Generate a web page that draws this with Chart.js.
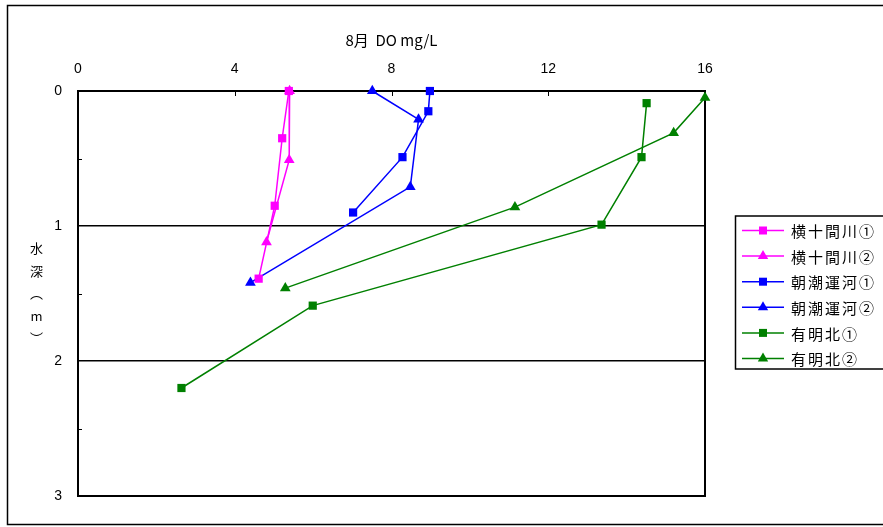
<!DOCTYPE html>
<html>
<head>
<meta charset="utf-8">
<script src="https://cdn.jsdelivr.net/npm/chart.js@4.4.1/dist/chart.umd.min.js"></script>
<style>
  body { margin: 0; background: #fff; }
  #wrap { position: relative; width: 883px; height: 527px; }
  #ytitle {
    position: absolute; left: 29px; top: 242px;
    writing-mode: vertical-rl; text-orientation: upright;
    font: 13px 'Noto Sans CJK JP', sans-serif; line-height: 14px;
    letter-spacing: 9.5px; color: #000;
  }
</style>
</head>
<body>
<div id="wrap">
  <canvas id="grafico" width="883" height="527"></canvas>
  <div id="ytitle">水深（m）</div>
</div>
<script>
// 8月 DO (mg/L) vs 水深 (m)
const nombres = ['横十間川①', '横十間川②', '朝潮運河①', '朝潮運河②', '有明北①', '有明北②'];

const doYoko1 = [5.38, 5.21, 5.02, 4.61];
const profYoko1 = [0, 0.35, 0.85, 1.39];
const doYoko2 = [5.40, 5.39, 4.81];
const profYoko2 = [0, 0.51, 1.12];
const doAsa1 = [8.98, 8.94, 8.28, 7.02];
const profAsa1 = [0, 0.15, 0.49, 0.90];
const doAsa2 = [7.51, 8.69, 8.48, 4.40];
const profAsa2 = [0, 0.21, 0.71, 1.42];
const doAri1 = [14.51, 14.38, 13.36, 5.99, 2.64];
const profAri1 = [0.09, 0.49, 0.99, 1.59, 2.20];
const doAri2 = [16.0, 15.2, 11.15, 5.29];
const profAri2 = [0.05, 0.31, 0.86, 1.46];

const xTicks = [0, 4, 8, 12, 16];
const yTicks = [0, 1, 2, 3];

const colores = ['#FF00FF', '#FF00FF', '#0000FF', '#0000FF', '#008000', '#008000'];
const marcas = ['rect', 'triangle', 'rect', 'triangle', 'rect', 'triangle'];

const FUENTE = "'Liberation Sans', 'Noto Sans CJK JP', sans-serif";

function puntos(xs, ys) {
  return xs.map((v, i) => ({ x: v, y: ys[i] }));
}

const series = [
  puntos(doYoko1, profYoko1),
  puntos(doYoko2, profYoko2),
  puntos(doAsa1, profAsa1),
  puntos(doAsa2, profAsa2),
  puntos(doAri1, profAri1),
  puntos(doAri2, profAri2)
];

function dibujarMarca(ctx, estilo, x, y, color) {
  ctx.fillStyle = color;
  ctx.beginPath();
  if (estilo === 'rect') {
    ctx.rect(x - 4, y - 4, 8, 8);
  } else {
    ctx.moveTo(x, y - 6);
    ctx.lineTo(x + 5.2, y + 3);
    ctx.lineTo(x - 5.2, y + 3);
    ctx.closePath();
  }
  ctx.fill();
}

const marco = {
  id: 'marco',
  beforeDraw(chart) {
    const ctx = chart.ctx;
    ctx.save();
    ctx.fillStyle = '#fff';
    ctx.fillRect(0, 0, chart.width, chart.height);
    // borde exterior
    ctx.strokeStyle = '#000';
    ctx.lineWidth = 1.5;
    ctx.strokeRect(7.5, 5.5, 900, 519);
    ctx.restore();
  },
  beforeDatasetsDraw(chart) {
    const ctx = chart.ctx;
    const a = chart.chartArea;
    const sx = chart.scales.x, sy = chart.scales.y;
    ctx.save();
    ctx.strokeStyle = '#000';
    ctx.lineWidth = 2;
    ctx.strokeRect(a.left, a.top, a.right - a.left, a.bottom - a.top);
    ctx.lineWidth = 1;
    ctx.beginPath();
    xTicks.slice(1, -1).forEach(v => {
      const px = Math.round(sx.getPixelForValue(v)) + 0.5;
      ctx.moveTo(px, a.top);
      ctx.lineTo(px, a.top + 5);
    });
    [0.5, 1.5, 2.5].forEach(v => {
      const py = Math.round(sy.getPixelForValue(v)) + 0.5;
      ctx.moveTo(a.left, py);
      ctx.lineTo(a.left + 4, py);
    });
    ctx.stroke();
    ctx.restore();
  },
  afterDraw(chart) {
    // leyenda con recuadro
    const ctx = chart.ctx;
    ctx.save();
    ctx.strokeStyle = '#000';
    ctx.lineWidth = 1.5;
    ctx.strokeRect(735.5, 216, 200, 153);
    ctx.font = "15px 'Noto Sans CJK JP', sans-serif";
    ctx.textBaseline = 'middle';
    ctx.letterSpacing = '2px';
    nombres.forEach((n, i) => {
      const y = 230.5 + i * 25.6;
      ctx.strokeStyle = colores[i];
      ctx.lineWidth = 1.5;
      ctx.beginPath();
      ctx.moveTo(742, y);
      ctx.lineTo(784, y);
      ctx.stroke();
      dibujarMarca(ctx, marcas[i], 763, y, colores[i]);
      ctx.fillStyle = '#000';
      ctx.fillText(n, 791, y + 1);
    });
    ctx.restore();
  }
};

new Chart(document.getElementById('grafico'), {
  type: 'scatter',
  data: {
    datasets: series.map((d, i) => ({
      label: nombres[i],
      data: d,
      showLine: true,
      clip: false,
      borderColor: colores[i],
      backgroundColor: colores[i],
      borderWidth: 1.5,
      pointStyle: marcas[i],
      pointRadius: marcas[i] === 'rect' ? 5.8 : 6.2,
      pointBorderWidth: 0,
      pointBackgroundColor: colores[i]
    }))
  },
  options: {
    responsive: false,
    animation: false,
    devicePixelRatio: 1,
    layout: { padding: { left: 0, top: 0, right: 178, bottom: 31 } },
    plugins: {
      legend: { display: false },
      tooltip: { enabled: false }
    },
    scales: {
      x: {
        type: 'linear',
        position: 'top',
        min: 0,
        max: 16,
        afterFit: s => { s.height = 91; },
        afterBuildTicks: s => { s.ticks = xTicks.map(v => ({ value: v })); },
        ticks: { color: '#000', font: { family: FUENTE, size: 14 }, padding: 13 },
        grid: { display: false, drawTicks: false },
        border: { display: false },
        title: {
          display: true,
          text: '8月  DO mg/L',
          color: '#000',
          font: { family: "'Noto Sans CJK JP', sans-serif", size: 15 },
          padding: { top: 31, bottom: 0 }
        }
      },
      y: {
        type: 'linear',
        reverse: true,
        min: 0,
        max: 3,
        afterFit: s => { s.width = 78; },
        afterBuildTicks: s => { s.ticks = yTicks.map(v => ({ value: v })); },
        ticks: { color: '#000', font: { family: FUENTE, size: 14 }, padding: 16 },
        grid: {
          drawTicks: false,
          color: c => (c.tick && (c.tick.value === 1 || c.tick.value === 2)) ? '#000' : 'rgba(0,0,0,0)',
          lineWidth: 1.5
        },
        border: { display: false }
      }
    }
  },
  plugins: [marco]
});
</script>
</body>
</html>
